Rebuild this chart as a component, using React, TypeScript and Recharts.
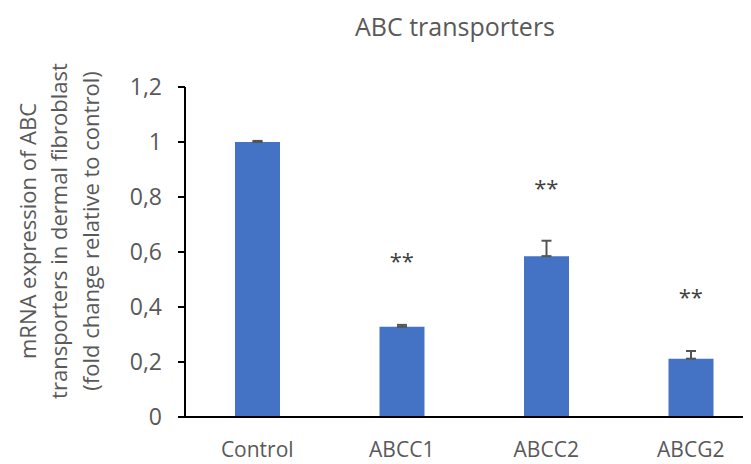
import React from "react";
import { ComposedChart, Bar, XAxis, YAxis, ErrorBar, Scatter } from "recharts";

const categories = ["Control", "ABCC1", "ABCC2", "ABCG2"];
const means = [1.0, 0.328, 0.585, 0.212];
const errors = [0.004, 0.007, 0.056, 0.028];
const sigPositions: (number | null)[] = [null, 0.582, 0.847, 0.451];
const sigLabels = ["", "**", "**", "**"];
const yTicks = [0, 0.2, 0.4, 0.6, 0.8, 1, 1.2];
const title = "ABC transporters";
const yLabelLines = [
  "mRNA expression of ABC",
  "transporters in dermal fibroblast",
  "(fold change relative to control)",
];

const data = categories.map((c, i) => ({
  name: c,
  value: means[i],
  err: [0, errors[i]],
  sig: sigPositions[i],
  sigLabel: sigLabels[i],
}));

const FONT = "'Open Sans', 'Liberation Sans', sans-serif";
const GREY = "#595959";

const SigShape = (props: any) => {
  const { cx, cy, payload } = props;
  if (cy == null || payload.sig == null) return <g />;
  return (
    <text x={cx} y={cy + 12} textAnchor="middle" fontSize={22} fill="#404040" fontFamily={FONT}>
      {payload.sigLabel}
    </text>
  );
};

const Overlay = () => {
  const cy = 231;
  const xs = [27, 58, 90];
  return (
    <g>
      <text x={455} y={36} textAnchor="middle" fontSize={25} fill={GREY} fontFamily={FONT}>
        {title}
      </text>
      {yLabelLines.map((l, i) => (
        <text
          key={i}
          x={xs[i]}
          y={cy}
          transform={`rotate(-90 ${xs[i]} ${cy})`}
          textAnchor="middle"
          dominantBaseline="central"
          fontSize={22}
          fill={GREY}
          fontFamily={FONT}
        >
          {l}
        </text>
      ))}
    </g>
  );
};

export default function App() {
  return (
    <div
      style={{
        position: "relative",
        width: 751,
        height: 464,
        overflow: "hidden",
        margin: "-8px 0 0 -8px",
        background: "#fff",
      }}
    >
      <ComposedChart
        width={775}
        height={464}
        data={data}
        margin={{ top: 87, right: 12, bottom: 0, left: 100 }}
        style={{ position: "absolute", left: 0, top: 0 }}
      >
        <XAxis
          dataKey="name"
          axisLine={{ stroke: "#000", strokeWidth: 2 }}
          tickLine={false}
          height={47}
          tick={{ fill: GREY, fontSize: 21, fontFamily: FONT }}
          tickMargin={19}
        />
        <YAxis
          width={85}
          domain={[0, 1.2]}
          ticks={yTicks}
          interval={0}
          axisLine={{ stroke: "#000", strokeWidth: 2 }}
          tickLine={{ stroke: "#000", strokeWidth: 2 }}
          tickSize={7}
          tickMargin={16}
          tickFormatter={(v: number) => String(v).replace(".", ",")}
          tick={{ fill: GREY, fontSize: 23, fontFamily: FONT }}
        />
        <Bar dataKey="value" fill="#4472C4" barSize={45} isAnimationActive={false}>
          <ErrorBar dataKey="err" width={5} stroke="#555" strokeWidth={2} direction="y" />
        </Bar>
        <Scatter dataKey="sig" shape={<SigShape />} isAnimationActive={false} />
      </ComposedChart>
      <svg width={751} height={464} style={{ position: "absolute", left: 0, top: 0, pointerEvents: "none" }}>
        <Overlay />
      </svg>
    </div>
  );
}
